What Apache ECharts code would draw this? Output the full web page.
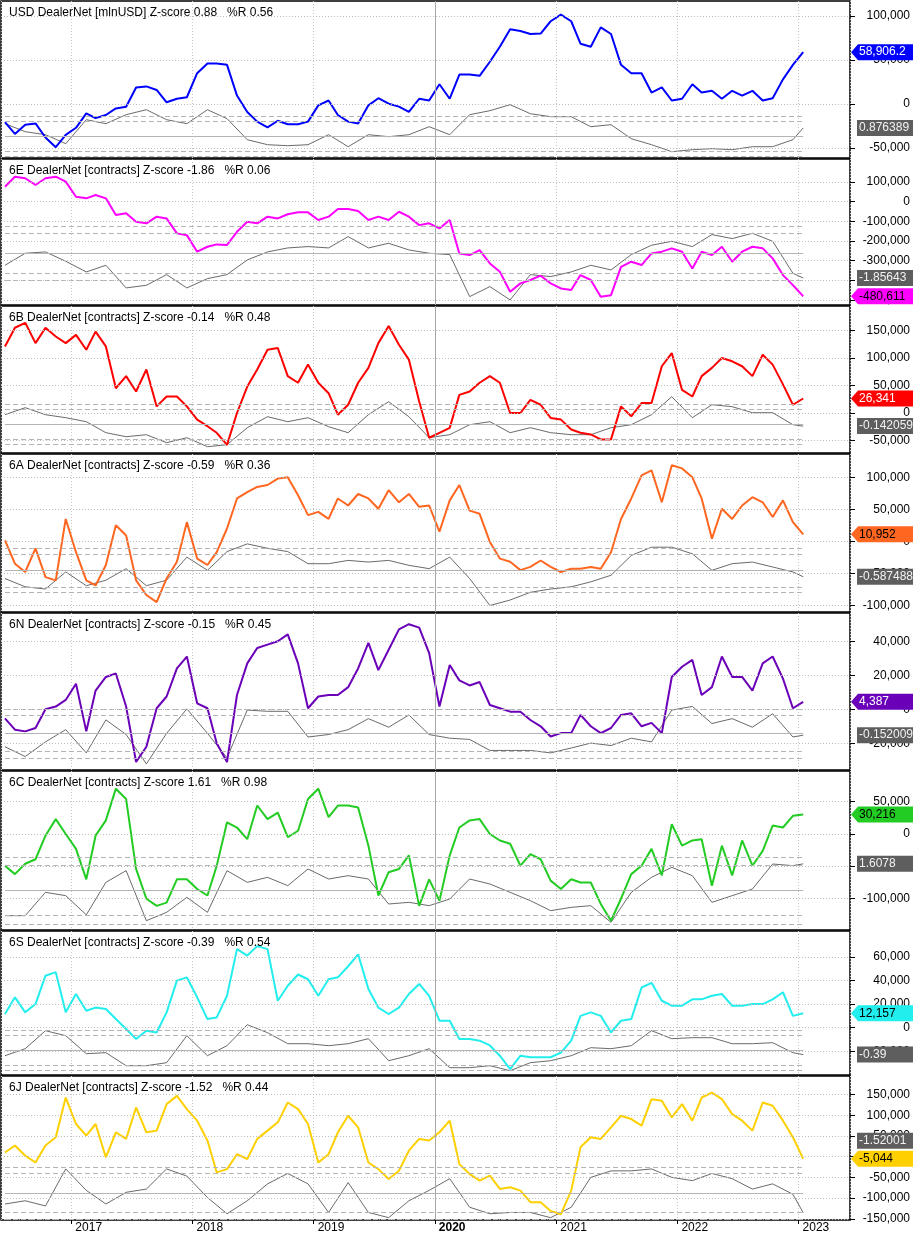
<!DOCTYPE html>
<html>
<head>
<meta charset="utf-8">
<script src="https://cdn.jsdelivr.net/npm/echarts@6/dist/echarts.min.js"></script>
<style>
  html, body { margin: 0; padding: 0; background: #fff; }
  #main { width: 913px; height: 1236px; }
</style>
</head>
<body>
<div id="main"></div>
<script>
// monthly points, mid-June 2016 .. mid-January 2023
const dates = [];
for (let i = 0; i < 80; i++) dates.push(new Date(2016, 5 + i, 15).getTime());
// z-score lines are sampled every second month plus the last one
const zDates = [];
for (let i = 0; i < 80; i += 2) zDates.push(dates[i]);
zDates.push(dates[79]);

const usdNet = [-20600,-34000,-23500,-22000,-38000,-49000,-35000,-27000,-10700,-16000,
  -12500,-5000,-3000,18800,20000,16000,2000,6000,7700,35000,
  46000,46000,44500,9600,-9000,-20000,-26500,-19000,-23000,-23000,
  -20000,-1500,4000,-12500,-20000,-22000,-1500,6600,400,-3000,
  -9000,6000,4000,22500,6000,33500,33500,32000,48000,65000,
  85000,83000,79500,80000,94000,101500,94000,68500,65000,87000,
  79500,44500,35000,35000,13000,18800,4000,6000,22500,13000,
  15000,6000,15000,9600,15000,4000,6600,28000,44500,58906.2];
const eurNet = [76000,127000,119000,85000,119000,127000,102000,25000,17000,34000,
  17000,-68000,-59000,-102000,-110000,-76000,-85000,-161000,-170000,-254000,
  -229000,-217000,-220000,-153000,-102000,-110000,-76000,-85000,-64000,-54000,
  -54000,-93000,-76000,-37000,-37000,-47000,-93000,-76000,-93000,-51000,
  -76000,-119000,-110000,-136000,-93000,-263000,-271000,-246000,-314000,-356000,
  -458000,-415000,-398000,-376000,-415000,-441000,-449000,-373000,-398000,-483000,
  -475000,-331000,-305000,-322000,-263000,-254000,-237000,-254000,-339000,-254000,
  -271000,-229000,-305000,-254000,-229000,-237000,-288000,-373000,-424000,-480611];
const gbpNet = [121000,155000,164000,127000,155000,139000,127000,142000,115000,148000,
  121000,45000,67000,39000,79000,12000,30000,30000,12000,-12000,
  -24000,-36000,-58000,0,48000,79000,115000,118000,67000,55000,
  88000,55000,36000,-3000,15000,55000,82000,127000,158000,124000,
  97000,21000,-45000,-36000,-27000,33000,39000,55000,67000,55000,
  0,0,24000,15000,-9000,-12000,-30000,-36000,-39000,-48000,
  -48000,12000,-6000,18000,18000,85000,109000,42000,30000,67000,
  82000,100000,94000,85000,67000,106000,88000,52000,15000,26341];
const audNet = [1500,-35000,-48000,-11000,-56000,-61000,35000,-17000,-61000,-69000,
  -37000,25000,9000,-61000,-84000,-95000,-58000,-32000,30000,-27000,
  -37000,-17000,20000,67000,77000,85000,88000,98000,100000,72000,
  41000,46000,35000,67000,56000,74000,67000,51000,80000,61000,
  74000,54000,56000,15000,64000,88000,48000,43000,-1000,-27000,
  -32000,-45000,-40000,-30000,-40000,-48000,-43000,-43000,-40000,-43000,
  -17000,35000,67000,103000,111000,61000,119000,114000,100000,67000,
  4000,51000,35000,56000,69000,61000,38000,64000,30000,10952];
const nzdNet = [-5300,-12000,-13000,-11000,0,1600,5500,15000,-13000,11000,
  19000,21000,1600,-31000,-22000,600,7500,24000,31000,3500,
  600,-20000,-31000,8400,27000,36000,38000,40000,44000,27000,
  600,7500,8400,8400,13000,24000,39000,23000,35000,47000,
  50000,48000,33000,1600,26000,17000,14000,16000,2500,600,
  -1400,-1400,-6300,-10000,-16000,-14000,-14000,-3300,-10000,-14000,
  -11000,-3300,-2400,-10000,-8000,-14000,19000,25000,29000,8400,
  13000,31000,19000,19000,11000,27000,31000,18000,600,4387];
const cadNet = [-49000,-62000,-46000,-39000,-2600,23000,0,-23000,-70000,-2600,
  21000,70000,54000,-54000,-100000,-111000,-106000,-70000,-70000,-85000,
  -95000,-49000,18000,10000,-8000,44000,23000,33000,-5000,5000,
  54000,70000,26000,44000,44000,41000,-18000,-95000,-59000,-54000,
  -33000,-111000,-70000,-103000,-33000,10000,21000,23000,0,-10000,
  -15000,-49000,-31000,-39000,-72000,-85000,-70000,-75000,-75000,-108000,
  -134000,-100000,-62000,-49000,-23000,-64000,15000,-18000,-10000,-8000,
  -80000,-18000,-64000,-10000,-49000,-26000,13000,10000,28000,30216];
const chfNet = [11600,25700,13000,20000,44000,47000,13000,28500,14400,17000,
  15800,7300,-1100,-9600,-2500,-4000,13000,39800,42600,25700,
  7300,8700,27000,66500,61000,69000,66500,22800,35500,45000,
  41000,27000,41000,42600,52000,62000,32700,17000,11600,17000,
  28500,37000,27000,5900,5900,-9600,-9600,-11000,-15000,-23700,
  -35000,-23700,-25000,-25000,-25000,-21000,-11000,10000,13000,10000,
  -4000,5900,7300,34000,38000,22800,18600,18600,24000,24000,
  27000,28500,18600,18600,20000,20000,24000,30000,10000,12157];
const jpyNet = [10000,27000,2400,-14000,27000,47000,143000,79000,51000,79000,
  -1600,59000,43000,119000,59000,63000,127000,147000,115000,87000,
  39000,-38000,-30000,6000,-5600,43000,63000,83000,131000,115000,
  79000,-14000,6000,59000,99000,71000,-14000,-30000,-54000,-34000,
  14500,43000,39000,59000,87000,-18000,-42000,-58000,-46000,-78000,
  -74000,-82000,-110000,-110000,-131000,-139000,-82000,22600,47000,43000,
  71000,99000,91000,75000,139000,135000,95000,127000,87000,143000,
  155000,139000,103000,87000,63000,131000,123000,87000,47000,-5044];

const usdZ = [1.3,0.5,0.2,-0.7,1.7,1.3,2.2,2.7,1.7,1.3,2.7,1.8,-0.3,-0.8,-0.9,-0.8,0.2,-1,0.2,0,
  0.2,1,0.2,2.2,2.6,3.2,2.3,2,2,1,1.2,-0.2,-0.8,-1.5,-1.3,-1.2,-1.3,-1,-1,-0.3,0.876389];
const eurZ = [-0.9,0,0.1,-0.6,-1.4,-0.9,-2.6,-2.4,-1.6,-2.6,-1.9,-1.6,-0.5,0.1,0.4,0.5,0.4,1.25,0.4,0.75,
  0.25,0,-0.1,-3.25,-2.5,-3.5,-1.6,-1.75,-1.4,-0.9,-1.25,-0.1,0.6,0.9,0.5,1.4,1.1,1.5,0.9,-1.5,-1.85643];
const gbpZ = [1,1.7,1,0.7,0.3,-0.8,-1.2,-1,-1.8,-1.3,-2.2,-2,-0.3,0.8,0.3,0.7,-0.2,-0.8,1,2.3,
  0.8,-1.3,-1,0,0.3,-0.8,-0.3,-0.8,-1,-1,-0.3,0,1,2.8,0.7,2,1.8,1.2,1.2,0,-0.142059];
const audZ = [-0.75,-1.5,-1.7,-0.15,-1.4,-0.9,0.15,-1.4,-0.9,1.2,0,1.7,2.4,2,1.7,0.6,0.6,0.9,0.75,0.9,
  0.45,0.15,1.2,-0.75,-3.2,-2.7,-2,-1.7,-1.5,-1.05,-0.45,1.35,2.1,2.1,1.5,0,0.6,0.75,0.3,-0.15,-0.587488];
const nzdZ = [-1.1,-1.9,-0.7,0.3,-1.6,1.1,-0.1,-2.5,0,2,0,-2,1.9,1.8,1.8,-0.3,-0.1,0.3,1.2,0.5,
  1.5,-0.1,-0.4,-0.5,-1.4,-1.4,-1.4,-1.6,-1.2,-0.8,-1,-0.4,-0.7,1.9,2.2,0.8,1.2,0.5,1.6,-0.3,-0.152009];
const cadZ = [-1.5,-1.5,-0.1,-0.3,-1.45,0.5,1.2,-1.8,-1.3,-0.4,-1.3,1.2,0.5,0.8,0.3,1.3,0.7,0.9,0.7,-0.8,
  -0.7,-0.9,-0.5,0.7,0.4,-0.1,-0.6,-1.2,-1,-0.9,-1.9,-0.1,0.8,1.4,0.9,-0.7,-0.3,0.1,1.6,1.5,1.6078];
const chfZ = [-0.5,0.2,2,1.5,-0.3,-0.2,-1.5,-1.5,-1.2,1.5,-0.5,0.5,2.6,1.8,0.7,0.7,0.5,0.7,1.2,-1,
  -0.5,0.2,-1.7,-1.7,-1.5,-2,-1.2,-1,-0.5,0.3,0.2,0.5,2,1.2,1.3,1.3,0.7,0.7,0.8,-0.2,-0.39];
const jpyZ = [-0.85,-0.6,-1,1.85,0.2,-0.85,0.05,0.3,1.85,1.3,-0.35,-1.6,-0.6,0.7,1.5,0.7,-1.5,0.8,-1.5,-1.9,
  -0.6,0.2,1.1,-1.1,-1.6,-1.5,-1.5,-1.9,-1.1,1.2,1.7,1.7,1.85,1.2,0.95,1.5,1.1,0.3,0.7,-0.1,-1.52001];

const usdTicks = [100000, 50000, 0, -50000];
const eurTicks = [100000, 0, -100000, -200000, -300000, -400000, -500000];
const gbpTicks = [150000, 100000, 50000, 0, -50000];
const audTicks = [100000, 50000, 0, -50000, -100000];
const nzdTicks = [40000, 20000, 0, -20000];
const cadTicks = [50000, 0, -50000, -100000];
const chfTicks = [60000, 40000, 20000, 0, -20000];
const jpyTicks = [150000, 100000, 50000, 0, -50000, -100000, -150000];

const titles = [
  'USD DealerNet [mlnUSD] Z-score 0.88   %R 0.56',
  '6E DealerNet [contracts] Z-score -1.86   %R 0.06',
  '6B DealerNet [contracts] Z-score -0.14   %R 0.48',
  '6A DealerNet [contracts] Z-score -0.59   %R 0.36',
  '6N DealerNet [contracts] Z-score -0.15   %R 0.45',
  '6C DealerNet [contracts] Z-score 1.61   %R 0.98',
  '6S DealerNet [contracts] Z-score -0.39   %R 0.54',
  '6J DealerNet [contracts] Z-score -1.52   %R 0.44'
];

const panels = [
  { net: usdNet, z: usdZ, ticks: usdTicks, color: '#0000ff', txt: '#fff', top: 1, bottom: 158, vmin: -61300, vmax: 117000, zmin: -2.13, zmax: 13.57 },
  { net: eurNet, z: eurZ, ticks: eurTicks, color: '#ff00ff', txt: '#000', top: 159, bottom: 305, vmin: -525000, vmax: 217000, zmin: -3.88, zmax: 7.07 },
  { net: gbpNet, z: gbpZ, ticks: gbpTicks, color: '#ff0000', txt: '#fff', top: 306, bottom: 453, vmin: -72700, vmax: 194500, zmin: -2.83, zmax: 11.87 },
  { net: audNet, z: audZ, ticks: audTicks, color: '#ff6620', txt: '#000', top: 454, bottom: 612, vmin: -110500, vmax: 136500, zmin: -3.79, zmax: 10.57 },
  { net: nzdNet, z: nzdZ, ticks: nzdTicks, color: '#6a00b8', txt: '#fff', top: 613, bottom: 770, vmin: -35700, vmax: 56600, zmin: -3.0, zmax: 9.84 },
  { net: cadNet, z: cadZ, ticks: cadTicks, color: '#22cc22', txt: '#000', top: 771, bottom: 930, vmin: -148300, vmax: 97300, zmin: -2.36, zmax: 7.18 },
  { net: chfNet, z: chfZ, ticks: chfTicks, color: '#22eeee', txt: '#000', top: 931, bottom: 1075, vmin: -40000, vmax: 81800, zmin: -2.43, zmax: 11.97 },
  { net: jpyNet, z: jpyZ, ticks: jpyTicks, color: '#ffd000', txt: '#000', top: 1076, bottom: 1220, vmin: -153000, vmax: 195000, zmin: -2.08, zmax: 9.0 }
];

const FONT = 'Liberation Sans, Arial, sans-serif';
const xMin = new Date(2016, 5, 3).getTime();
const xMax = new Date(2023, 5, 5).getTime();
const YEAR = 365.25 * 86400000;
const fmt = v => v.toLocaleString('en-US', { maximumFractionDigits: 1 });

const grid = [], xAxis = [], yAxis = [], series = [], title = [];
panels.forEach((p, i) => {
  const last = i === panels.length - 1;
  grid.push({ left: 1, right: 63, top: p.top, height: p.bottom - p.top, show: true,
    borderColor: '#000', borderWidth: 1.5, backgroundColor: '#fff' });
  title.push({ text: titles[i], left: 4, top: p.top + 1,
    textStyle: { fontFamily: FONT, fontSize: 12, fontWeight: 'normal', color: '#000' } });
  xAxis.push({
    type: 'time', gridIndex: i, min: xMin, max: xMax,
    minInterval: YEAR * 0.98, maxInterval: YEAR * 1.02,
    axisLine: { show: false, onZero: false },
    axisTick: { show: last, length: 4, lineStyle: { color: '#000' } },
    axisLabel: {
      show: last, align: 'left', padding: [0, 0, 0, 4], margin: 2,
      fontFamily: FONT, fontSize: 12, color: '#000',
      formatter: v => {
        const y = new Date(v).getFullYear();
        return y === 2020 ? '{b|' + y + '}' : String(y);
      },
      rich: { b: { fontWeight: 'bold', fontFamily: FONT, fontSize: 12, color: '#000' } }
    },
    splitLine: { show: true, lineStyle: { color: '#c8c8c8', type: [1, 2] } }
  });
  yAxis.push({
    type: 'value', gridIndex: i, position: 'right', min: p.vmin, max: p.vmax,
    axisLine: { show: false },
    axisTick: { show: true, inside: false, length: 5, customValues: p.ticks, lineStyle: { color: '#000' } },
    axisLabel: { customValues: p.ticks, align: 'right', margin: 60, fontFamily: FONT, fontSize: 12,
      color: '#000', formatter: v => fmt(v) },
    splitLine: { show: false }
  });
  yAxis.push({ type: 'value', gridIndex: i, show: false, min: p.zmin, max: p.zmax, splitLine: { show: false } });

  const z0 = zDates[0], z1 = zDates[zDates.length - 1];
  const hl = (v, dashed) => [
    { coord: [z0, v], lineStyle: { color: '#b4b4b4', width: 1, type: dashed ? [5, 3] : 'solid' } },
    { coord: [z1, v] }
  ];
  series.push({
    type: 'line', xAxisIndex: i, yAxisIndex: 2 * i + 1, z: 3,
    data: p.z.map((v, k) => [zDates[k], v]),
    showSymbol: false, lineStyle: { color: '#444', width: 0.8 },
    markLine: {
      silent: true, symbol: 'none', label: { show: false }, animation: false,
      data: [hl(0, false), hl(1.5, true), hl(2, true), hl(-1.5, true), hl(-2, true),
        { xAxis: new Date(2020, 0, 1).getTime(), lineStyle: { color: '#a8a8a8', type: 'solid', width: 1 } }]
    }
  });
  series.push({
    type: 'line', xAxisIndex: i, yAxisIndex: 2 * i, z: 4,
    data: p.net.map((v, k) => [dates[k], v]),
    showSymbol: false, lineStyle: { color: p.color, width: 2 },
    markLine: {
      silent: true, symbol: 'none', label: { show: false }, animation: false,
      lineStyle: { color: '#bdbdbd', type: [1, 2], width: 1 },
      data: p.ticks.map(t => ({ yAxis: t }))
    }
  });
});

const chart = echarts.init(document.getElementById('main'));
chart.setOption({ animation: false, backgroundColor: '#fff', title, grid, xAxis, yAxis, series });

// value tags on the right
const tags = [];
panels.forEach((p, i) => {
  const lv = p.net[p.net.length - 1];
  const lz = p.z[p.z.length - 1];
  const yv = chart.convertToPixel({ yAxisIndex: 2 * i }, lv);
  let yz = chart.convertToPixel({ yAxisIndex: 2 * i + 1 }, lz);
  // keep the grey tag inside its panel, stacked above the coloured tag if it would fall off
  if (yz > p.bottom - 9) yz = yv - 18;
  tags.push({
    type: 'rect', z: 100, shape: { x: 857, y: yz - 8, width: 56, height: 16 },
    style: { fill: '#5e5e5e' }
  });
  tags.push({
    type: 'text', z: 101, x: 859, y: yz,
    style: { text: String(lz), fill: '#f2f2f2', font: '12px ' + FONT, verticalAlign: 'middle' }
  });
  tags.push({
    type: 'polygon', z: 102,
    shape: { points: [[851, yv], [858, yv - 8], [913, yv - 8], [913, yv + 8], [858, yv + 8]] },
    style: { fill: p.color }
  });
  tags.push({
    type: 'text', z: 103, x: 859, y: yv,
    style: { text: fmt(lv), fill: p.txt, font: '12px ' + FONT, verticalAlign: 'middle' }
  });
});
chart.setOption({ graphic: tags });
</script>
</body>
</html>
